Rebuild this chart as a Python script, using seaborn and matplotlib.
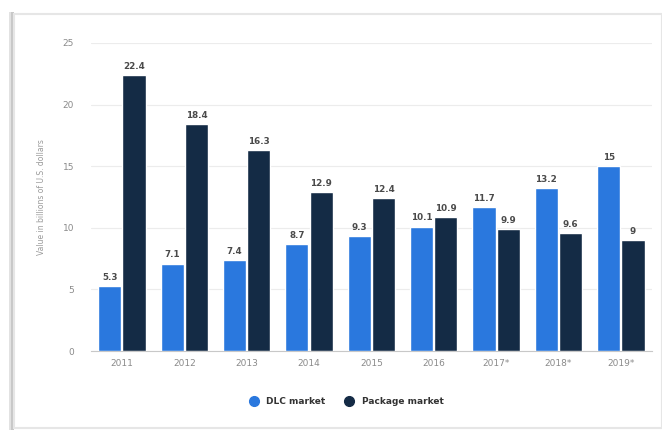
import matplotlib
matplotlib.use("Agg")
import matplotlib.pyplot as plt
import seaborn as sns
import pandas as pd
from matplotlib.patches import Rectangle
from matplotlib.lines import Line2D

years = ["2011", "2012", "2013", "2014", "2015", "2016", "2017*", "2018*", "2019*"]
dlc_market = [5.3, 7.1, 7.4, 8.7, 9.3, 10.1, 11.7, 13.2, 15]
package_market = [22.4, 18.4, 16.3, 12.9, 12.4, 10.9, 9.9, 9.6, 9]
series_names = ["DLC market", "Package market"]
y_ticks = [0, 5, 10, 15, 20, 25]

colors = {"DLC market": "#2a78de", "Package market": "#142b45"}

df = pd.DataFrame({
    "year": years * 2,
    "value": dlc_market + package_market,
    "series": [series_names[0]] * len(years) + [series_names[1]] * len(years),
})

sns.set_theme(style="white")
plt.rcParams["font.family"] = ["DejaVu Sans"]

fig = plt.figure(figsize=(6.62, 4.30), dpi=100)

# card outline with a soft shadow on the left edge
fig.patches.append(Rectangle((9 / 662, 0), 4 / 662, 1 - 12 / 430, transform=fig.transFigure,
                             facecolor="#e2e2e2", edgecolor="none", zorder=-3))
fig.patches.append(Rectangle((11 / 662, 0), 3 / 662, 1 - 12 / 430, transform=fig.transFigure,
                             facecolor="#c8c8c8", edgecolor="none", zorder=-2))
fig.patches.append(Rectangle((14 / 662, 2 / 430), 1 - 14 / 662, 1 - 16 / 430, transform=fig.transFigure,
                             facecolor="white", edgecolor="#e6e6e6", linewidth=1.5, zorder=-1))

ax = fig.add_axes([0.137, 0.1837, 0.848, 0.7163])
ax.set_zorder(1)
ax.patch.set_alpha(0)
sns.barplot(data=df, x="year", y="value", hue="series", palette=colors,
            width=0.78, gap=0.05, saturation=1, ax=ax, legend=False, zorder=3)

ax.set_ylim(0, 25)
ax.set_xlim(-0.5, 8.5)
ax.set_yticks(y_ticks)
ax.set_yticklabels([str(t) for t in y_ticks])
ax.yaxis.grid(True, color="#ececec", linewidth=0.8, zorder=0)
ax.set_axisbelow(True)
ax.xaxis.grid(False)
for side in ["top", "right", "left"]:
    ax.spines[side].set_visible(False)
ax.spines["bottom"].set_color("#c8c8c8")
ax.spines["bottom"].set_linewidth(0.8)
ax.tick_params(axis="x", length=0, labelsize=6.5, colors="#8a8a8a", pad=6)
ax.tick_params(axis="y", length=0, labelsize=6.5, colors="#8a8a8a", pad=12)
ax.set_xlabel("")
ax.set_ylabel("Value in billions of U.S. dollars", fontsize=5.5, color="#9a9a9a", labelpad=12)

for container in ax.containers:
    ax.bar_label(container, labels=[f"{v:g}" for v in container.datavalues],
                 fontsize=6.3, color="#4a4a4a", fontweight="bold", padding=3)

handles = [Line2D([0], [0], marker="o", linestyle="none", markersize=7,
                  markerfacecolor=colors[n], markeredgecolor=colors[n]) for n in series_names]
fig.legend(handles, series_names, loc="center", bbox_to_anchor=(0.52, 1 - 402 / 430),
           ncol=2, frameon=False, handletextpad=0.4, columnspacing=1.6,
           labelcolor="#333333", prop={"weight": "bold", "size": 6.5})

fig.savefig("out.png", dpi=100)
